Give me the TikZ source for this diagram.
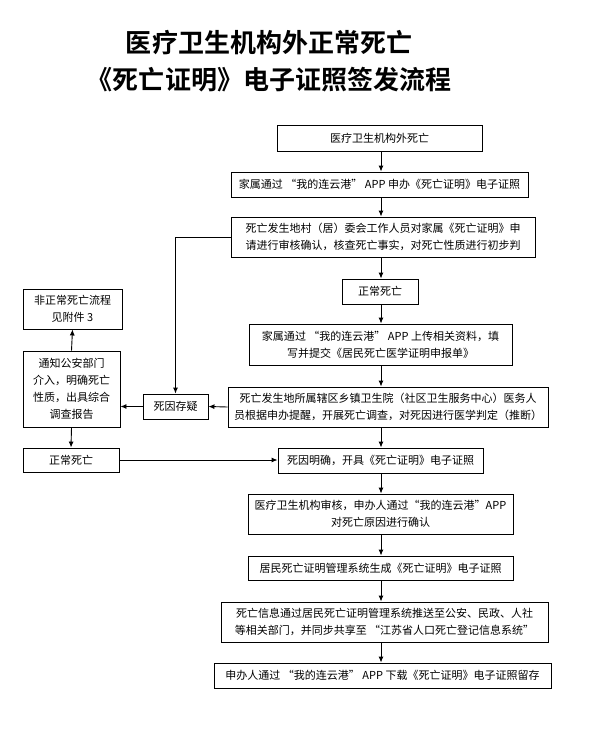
\documentclass[tikz,border=0pt]{standalone}
\usepackage{fontspec}
\setmainfont{Noto Sans CJK SC}[BoldFont={Noto Sans CJK SC Bold}]
\usetikzlibrary{arrows.meta}
\tikzset{
  box/.style={draw, line width=0.9bp, align=center, inner sep=0pt, font=\fontsize{11bp}{17bp}\selectfont},
  arr/.style={line width=0.9bp, -{Latex[length=6bp,width=5bp]}},
  ttl/.style={align=center, font=\fontsize{26bp}{37bp}\selectfont\bfseries}
}
\begin{document}
\begin{tikzpicture}[x=1bp,y=-1bp]
\useasboundingbox (0,0) rectangle (592,736);
\node[ttl] (title) at (269,61) {医疗卫生机构外正常死亡\\《死亡证明》电子证照签发流程};
\coordinate (mx) at (381,0);
\node[box, minimum width=205bp, minimum height=26bp] (b1) at (379.5,138) {医疗卫生机构外死亡};
\node[box, minimum width=297bp, minimum height=25bp] (b2) at (379.5,184.5) {家属通过 “我的连云港” APP 申办《死亡证明》电子证照};
\node[box, minimum width=304bp, minimum height=40bp] (b3) at (383,237) {死亡发生地村（居）委会工作人员对家属《死亡证明》申\\请进行审核确认，核查死亡事实，对死亡性质进行初步判};
\node[box, minimum width=76bp, minimum height=25bp] (b4) at (380,291.5) {正常死亡};
\node[box, minimum width=263bp, minimum height=41bp] (b5) at (380.5,344.5) {家属通过 “我的连云港” APP 上传相关资料，填\\写并提交《居民死亡医学证明申报单》};
\node[box, minimum width=320bp, minimum height=40bp] (b6) at (388,407) {死亡发生地所属辖区乡镇卫生院（社区卫生服务中心）医务人\\员根据申办提醒，开展死亡调查，对死因进行医学判定（推断）};
\node[box, minimum width=205bp, minimum height=25bp] (b7) at (380.5,460.5) {死因明确，开具《死亡证明》电子证照};
\node[box, minimum width=265bp, minimum height=40bp] (b8) at (380.5,514) {医疗卫生机构审核，申办人通过“我的连云港”APP\\对死亡原因进行确认};
\node[box, minimum width=265bp, minimum height=24bp] (b9) at (380.5,568) {居民死亡证明管理系统生成《死亡证明》电子证照};
\node[box, minimum width=327bp, minimum height=40bp] (b10) at (384.5,622) {死亡信息通过居民死亡证明管理系统推送至公安、民政、人社\\等相关部门，并同步共享至 “江苏省人口死亡登记信息系统”};
\node[box, minimum width=337bp, minimum height=25bp] (b11) at (382.5,675.5) {申办人通过 “我的连云港” APP 下载《死亡证明》电子证照留存};
\node[box, minimum width=99bp, minimum height=40bp] (la) at (72.5,309) {非正常死亡流程\\见附件 3};
\node[box, minimum width=97bp, minimum height=76bp] (lb) at (71.5,389) {通知公安部门\\介入，明确死亡\\性质，出具综合\\调查报告};
\node[box, minimum width=65bp, minimum height=25bp] (lc) at (175.5,406.5) {死因存疑};
\node[box, minimum width=96bp, minimum height=24bp] (ld) at (71,460) {正常死亡};
\draw[arr] (b1.south -| mx) -- (b2.north -| mx);
\draw[arr] (b2.south -| mx) -- (b3.north -| mx);
\draw[arr] (b3.south -| mx) -- (b4.north -| mx);
\draw[arr] (b4.south -| mx) -- (b5.north -| mx);
\draw[arr] (b5.south -| mx) -- (b6.north -| mx);
\draw[arr] (b6.south -| mx) -- (b7.north -| mx);
\draw[arr] (b7.south -| mx) -- (b8.north -| mx);
\draw[arr] (b8.south -| mx) -- (b9.north -| mx);
\draw[arr] (b9.south -| mx) -- (b10.north -| mx);
\draw[arr] (b10.south -| mx) -- (b11.north -| mx);
\draw[arr] (b3.west) -| (lc.north);
\draw[arr] (b6.west) -- (lc.east);
\draw[arr] (lc.west) -- (lc.west -| lb.east);
\draw[arr] (lb.north) -- (la.south);
\draw[arr] (lb.south) -- (ld.north);
\draw[arr] (ld.east) -- (ld.east -| b7.west);
\end{tikzpicture}
\end{document}
